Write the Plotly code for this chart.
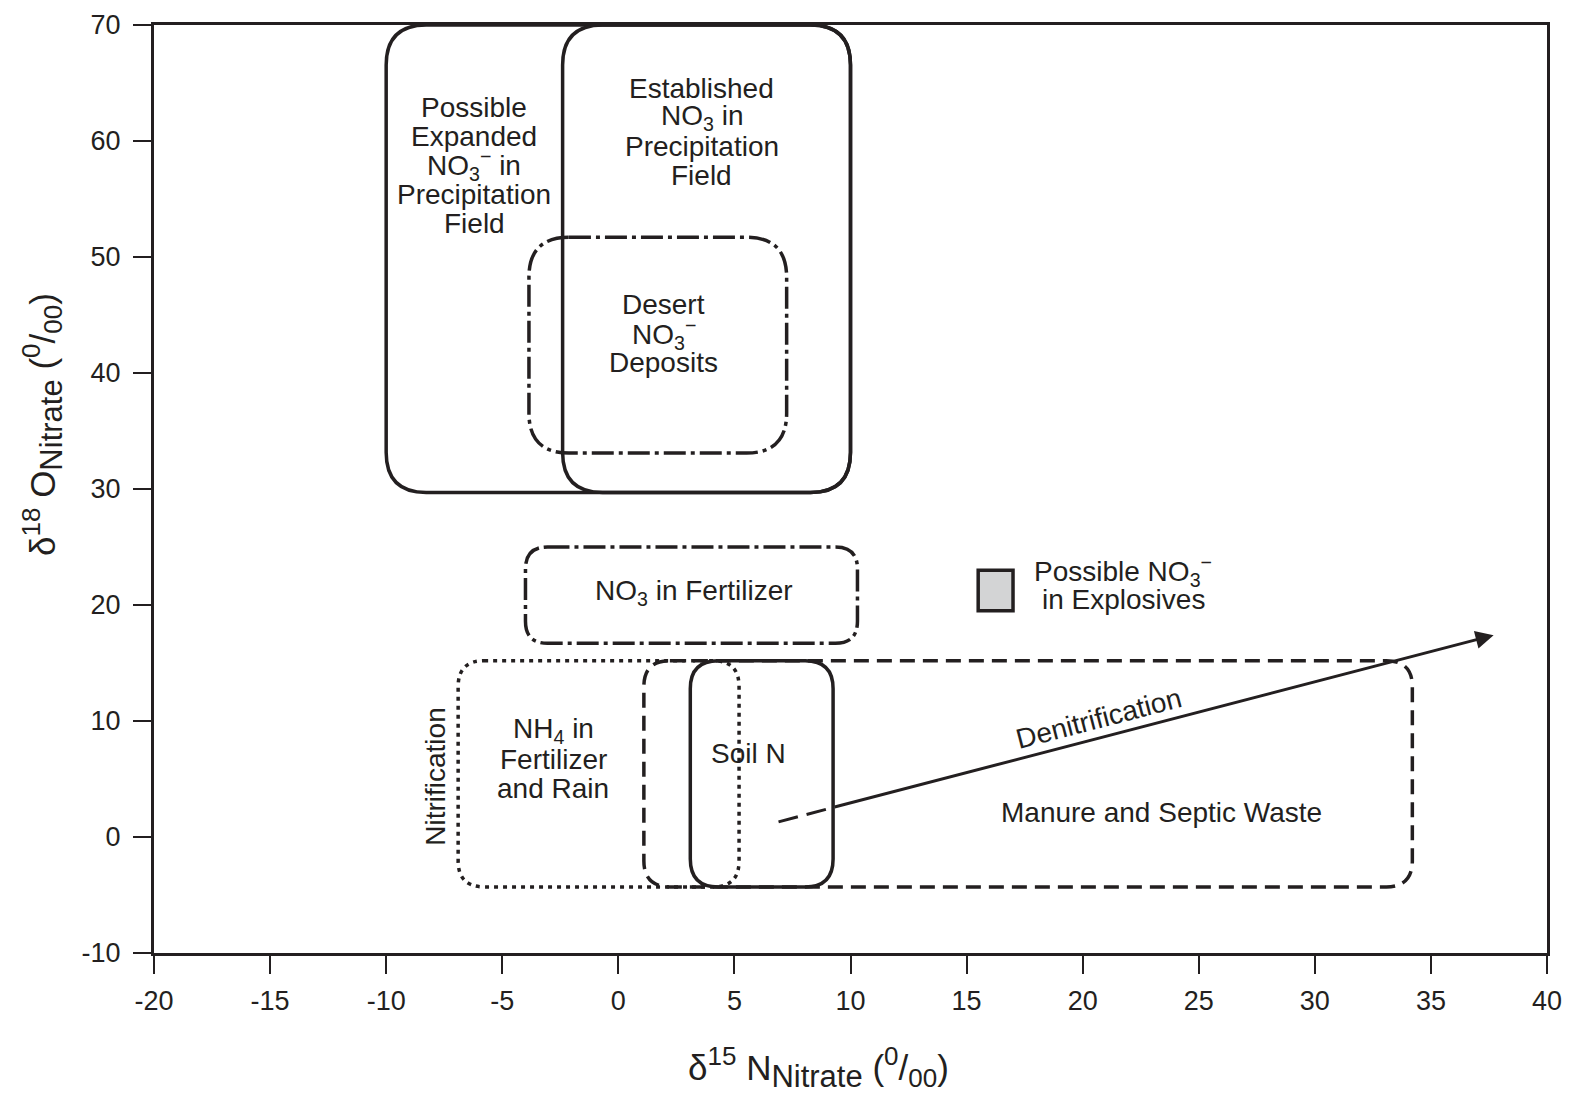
import plotly.graph_objects as go

# ---------------- data ----------------
x_ticks = [-20, -15, -10, -5, 0, 5, 10, 15, 20, 25, 30, 35, 40]
x_tick_labels = ["-20", "-15", "-10", "-5", "0", "5", "10", "15", "20", "25", "30", "35", "40"]
y_ticks = [-10, 0, 10, 20, 30, 40, 50, 60, 70]
y_tick_labels = ["-10", "0", "10", "20", "30", "40", "50", "60", "70"]

# source fields: name, x0, x1, y0, y1 (delta15N, delta18O in permil)
field_names = ["expanded_precip", "established_precip", "desert", "fertilizer_no3",
               "nh4", "manure", "soil_n"]
field_x0 = [-10.0, -2.4, -3.85, -4.0, -6.9, 1.1, 3.1]
field_x1 = [10.0, 10.0, 7.25, 10.3, 5.2, 34.2, 9.25]
field_y0 = [29.7, 29.7, 33.1, 16.7, -4.3, -4.3, -4.3]
field_y1 = [70.0, 70.0, 51.7, 25.0, 15.2, 15.2, 15.2]

explosives_x = [15.5, 17.0]
explosives_y = [19.5, 23.0]

denit_start = [6.9, 1.3]
denit_solid_start = [9.25, 2.55]
denit_end = [37.7, 17.4]

# ---------------- style ----------------
INK = "#231f20"
FONT = "Liberation Sans, Arial, Helvetica, sans-serif"
PAGE_W, PAGE_H = 1570, 1094
BODY = 8  # default page margin around the plot div
W, H = PAGE_W - BODY, PAGE_H - BODY
ML, MR, MT, MB = 154 - BODY, 23, 25 - BODY, 141
XR = [-20, 40]
YR = [-10, 70]
pxx = (W - ML - MR) / (XR[1] - XR[0])
pxy = (H - MT - MB) / (YR[1] - YR[0])

field_style = {
    "expanded_precip": dict(dash="solid", r=40),
    "established_precip": dict(dash="solid", r=40),
    "desert": dict(dash="22px,5px,4px,5px", r=40),
    "fertilizer_no3": dict(dash="22px,5px,4px,5px", r=22),
    "nh4": dict(dash="4px,5px", r=26),
    "manure": dict(dash="15px,8px", r=26),
    "soil_n": dict(dash="solid", r=28),
}


def rounded_path(x0, x1, y0, y1, r):
    rx, ry = r / pxx, r / pxy
    return (f"M {x0+rx},{y1} L {x1-rx},{y1} Q {x1},{y1} {x1},{y1-ry} "
            f"L {x1},{y0+ry} Q {x1},{y0} {x1-rx},{y0} "
            f"L {x0+rx},{y0} Q {x0},{y0} {x0},{y0+ry} "
            f"L {x0},{y1-ry} Q {x0},{y1} {x0+rx},{y1} Z")


fig = go.Figure()
fig.add_trace(go.Scatter(x=[None], y=[None], showlegend=False, hoverinfo="skip"))

shapes = []
for name, x0, x1, y0, y1 in zip(field_names, field_x0, field_x1, field_y0, field_y1):
    st = field_style[name]
    shapes.append(dict(type="path", xref="x", yref="y",
                       path=rounded_path(x0, x1, y0, y1, st["r"]),
                       line=dict(color=INK, width=3.5, dash=st["dash"]),
                       layer="above"))

shapes.append(dict(type="rect", xref="x", yref="y",
                   x0=explosives_x[0], x1=explosives_x[1],
                   y0=explosives_y[0], y1=explosives_y[1],
                   fillcolor="#d3d4d5", line=dict(color=INK, width=3.5)))

# dashed beginning of the denitrification arrow
shapes.append(dict(type="line", xref="x", yref="y",
                   x0=denit_start[0], y0=denit_start[1],
                   x1=denit_solid_start[0], y1=denit_solid_start[1],
                   line=dict(color=INK, width=3, dash="20px,9px")))

annotations = []


def add_lines(lines, x, y, size=28, spacing=29, angle=0):
    n = len(lines)
    for i, t in enumerate(lines):
        annotations.append(dict(x=x, y=y, xref="x", yref="y", text=t, showarrow=False,
                                yshift=((n - 1) / 2 - i) * spacing,
                                textangle=angle,
                                font=dict(family=FONT, size=size, color=INK)))


NO3m = "NO<sub>3</sub><sup>\u2212</sup>"
add_lines(["Possible", "Expanded", NO3m + " in", "Precipitation", "Field"], -6.2, 57.9)
add_lines(["Established", "NO<sub>3</sub> in", "Precipitation", "Field"], 3.6, 60.8)
add_lines(["Desert", NO3m, "Deposits"], 1.95, 43.4)
add_lines(["NO<sub>3</sub> in Fertilizer"], 3.25, 21.1)
add_lines(["NH<sub>4</sub> in", "Fertilizer", "and Rain"], -2.8, 6.7)
add_lines(["Soil N"], 5.6, 7.2)
add_lines(["Manure and Septic Waste"], 23.4, 2.1)
add_lines(["Possible " + NO3m, "in Explosives"], 21.75, 21.7)
add_lines(["Nitrification"], -7.85, 5.2, angle=-90)
add_lines(["Denitrification"], 20.7, 10.2, size=28, angle=-14.6)

# solid arrow
annotations.append(dict(x=denit_end[0], y=denit_end[1], ax=denit_solid_start[0],
                        ay=denit_solid_start[1], xref="x", yref="y", axref="x", ayref="y",
                        text="", showarrow=True, arrowhead=2, arrowsize=1.2,
                        arrowwidth=3, arrowcolor=INK, standoff=0, startstandoff=0))


def sz(t, s):
    return f"<span style='font-size:{s}px'>{t}</span>"


def axis_title(iso, el):
    return (f"\u03b4<sup>{sz(iso, 26)}</sup> {el}<sub>{sz('Nitrate', 31)}</sub> "
            f"(<sup>{sz('0', 26)}</sup>/<sub>{sz('00', 26)}</sub>)")


# axis titles
annotations.append(dict(xref="paper", yref="paper", x=(818 - 154) / (W - ML - MR), y=0,
                        yanchor="middle", yshift=-(1067 - 953), showarrow=False,
                        text=axis_title("15", "N"),
                        font=dict(family=FONT, size=35, color=INK)))
annotations.append(dict(xref="paper", yref="paper", x=0, y=(953 - 425) / (H - MT - MB),
                        xanchor="center", xshift=-(154 - 42), showarrow=False, textangle=-90,
                        text=axis_title("18", "O"),
                        font=dict(family=FONT, size=35, color=INK)))

axis_common = dict(showgrid=False, zeroline=False, showline=True, linecolor=INK,
                   linewidth=3, mirror=True, ticks="outside", ticklen=18, tickwidth=2,
                   tickcolor=INK, automargin=False,
                   tickfont=dict(family=FONT, size=27, color=INK))

fig.update_layout(
    width=W, height=H,
    margin=dict(l=ML, r=MR, t=MT, b=MB, pad=0),
    paper_bgcolor="white", plot_bgcolor="white",
    showlegend=False,
    shapes=shapes, annotations=annotations,
    xaxis=dict(range=XR, tickmode="array", tickvals=x_ticks, ticktext=x_tick_labels,
               ticklabelstandoff=4, **axis_common),
    yaxis=dict(range=YR, tickmode="array", tickvals=y_ticks, ticktext=y_tick_labels,
               ticklabelstandoff=7, **axis_common),
)

fig.write_html("out.html")
